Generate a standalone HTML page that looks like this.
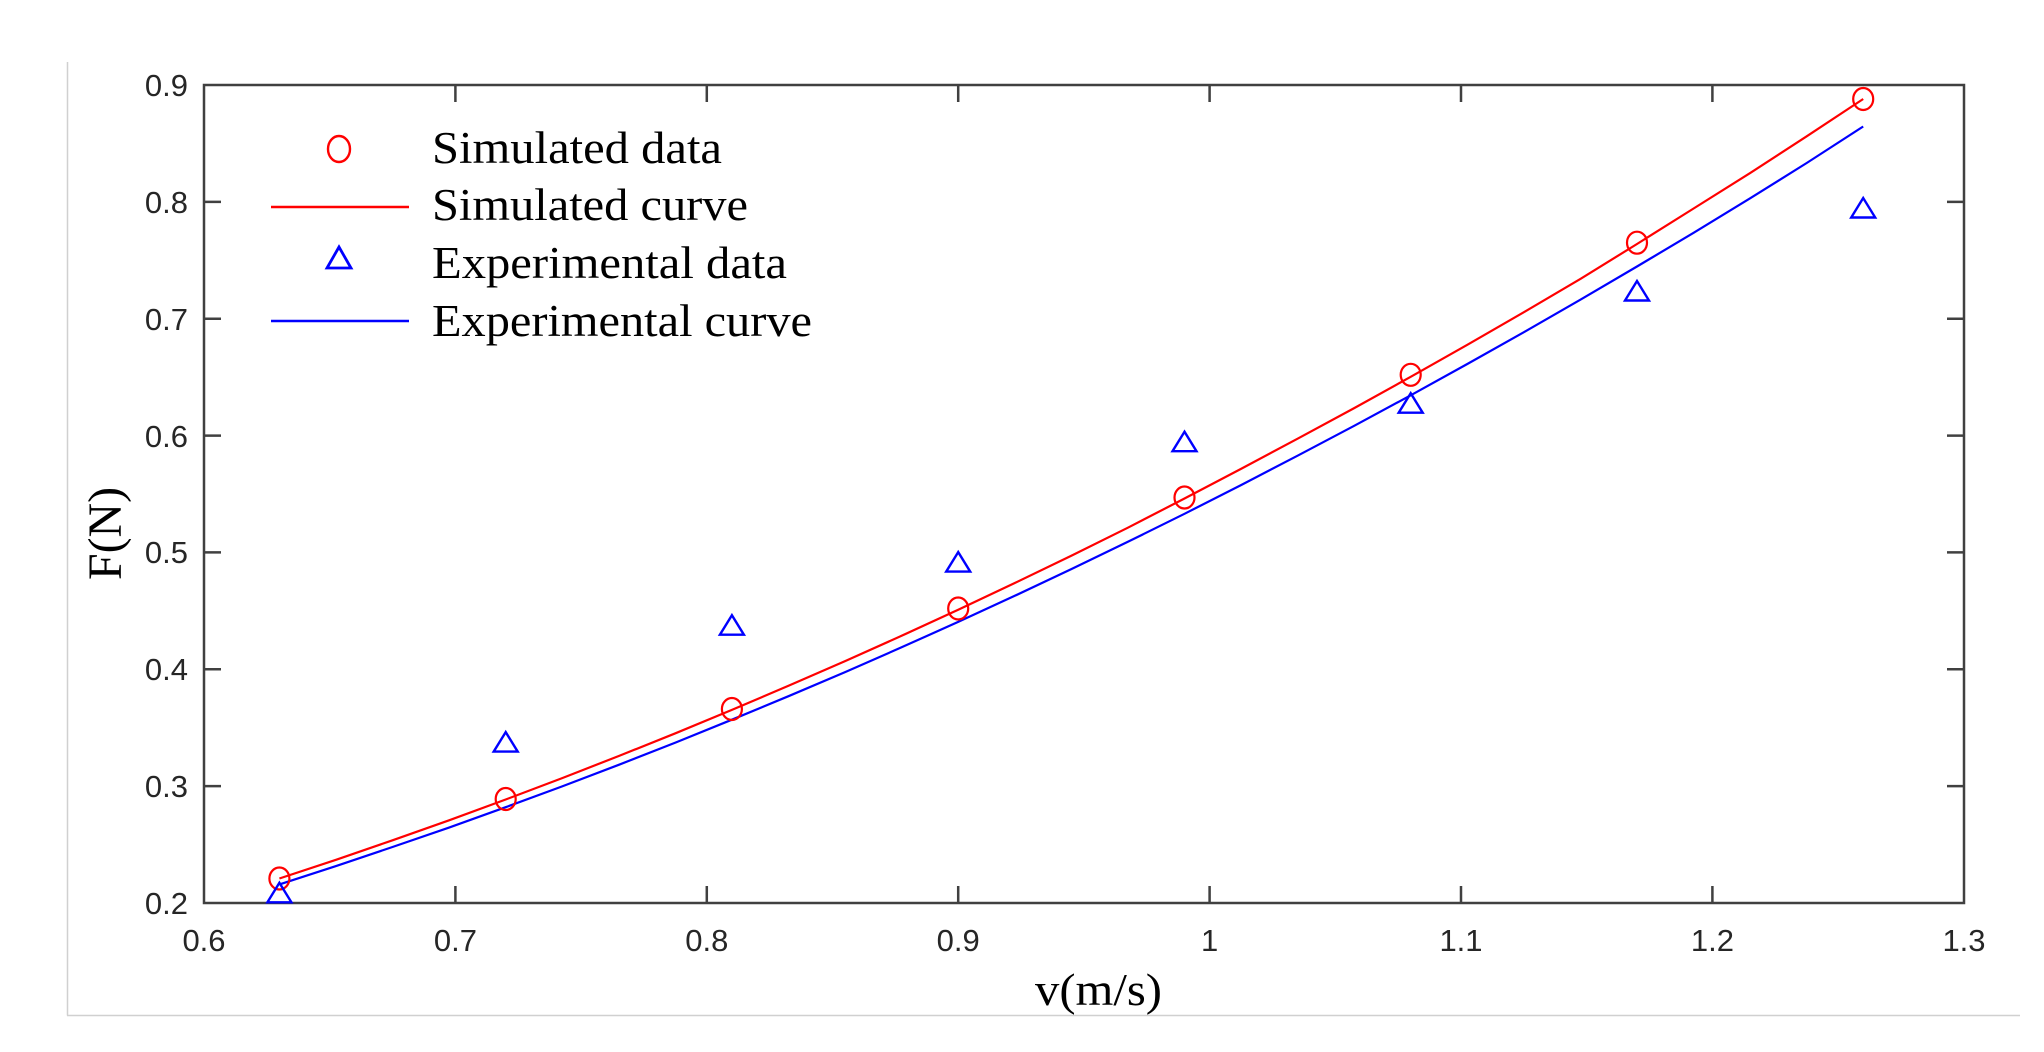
<!DOCTYPE html>
<html>
<head>
<meta charset="utf-8">
<style>
html,body{margin:0;padding:0;background:#fff;}
svg{display:block;}
.tk{font-family:"Liberation Sans",Arial,sans-serif;font-size:31px;fill:#262626;}
.lg{font-family:"Liberation Serif","Times New Roman",serif;font-size:45px;fill:#000;}
</style>
</head>
<body>
<svg width="2044" height="1052" viewBox="0 0 2044 1052" xmlns="http://www.w3.org/2000/svg">
<rect width="2044" height="1052" fill="#fff"/>
<line x1="67.5" y1="62" x2="67.5" y2="1015.5" stroke="#d0d0d0" stroke-width="1.5"/>
<line x1="67" y1="1015.5" x2="2020" y2="1015.5" stroke="#d0d0d0" stroke-width="1.5"/>

<rect x="204" y="85" width="1760" height="818" fill="none" stroke="#404040" stroke-width="2.5"/>
<g stroke="#404040" stroke-width="2.5">
<path d="M455.4 903v-17M706.8 903v-17M958.2 903v-17M1209.6 903v-17M1461 903v-17M1712.4 903v-17
M455.4 85v17M706.8 85v17M958.2 85v17M1209.6 85v17M1461 85v17M1712.4 85v17
M204 786.1h17M204 669.3h17M204 552.4h17M204 435.6h17M204 318.7h17M204 201.9h17
M1964 786.1h-17M1964 669.3h-17M1964 552.4h-17M1964 435.6h-17M1964 318.7h-17M1964 201.9h-17"/>
</g>
<g class="tk" text-anchor="end">
<text x="188" y="914">0.2</text>
<text x="188" y="797">0.3</text>
<text x="188" y="680">0.4</text>
<text x="188" y="563">0.5</text>
<text x="188" y="447">0.6</text>
<text x="188" y="330">0.7</text>
<text x="188" y="213">0.8</text>
<text x="188" y="96">0.9</text>
</g>
<g class="tk" text-anchor="middle">
<text x="204" y="951">0.6</text>
<text x="455.4" y="951">0.7</text>
<text x="706.8" y="951">0.8</text>
<text x="958.2" y="951">0.9</text>
<text x="1209.6" y="951">1</text>
<text x="1461" y="951">1.1</text>
<text x="1712.4" y="951">1.2</text>
<text x="1964" y="951">1.3</text>
</g>
<text class="lg" x="1035" y="1005" textLength="127" lengthAdjust="spacingAndGlyphs" style="font-size:46px">v(m/s)</text>
<text class="lg" transform="translate(121,580) rotate(-90)" x="0" y="0" textLength="93" lengthAdjust="spacingAndGlyphs" style="font-size:48px">F(N)</text>

<polyline fill="none" stroke="#0000ff" stroke-width="2.2" points="279.4,884.4 336,866.1 392.5,847.0 449.1,827.6 505.7,807.2 562.2,786.4 618.8,764.8 675.4,742.6 731.9,719.7 788.5,696.2 845.1,672.1 901.6,647.3 958.2,621.9 1014.8,595.8 1071.3,569.1 1127.9,541.8 1184.5,513.8 1241,485.1 1297.6,455.7 1354.2,425.8 1410.7,395.3 1467.3,364.0 1523.9,332.2 1580.4,299.7 1637,266.5 1693.6,232.8 1750.1,198.3 1806.7,163.0 1863.2,126.5"/>
<polyline fill="none" stroke="#ff0000" stroke-width="2.2" points="279.4,878.5 336,859.8 392.5,840.3 449.1,820.3 505.7,799.5 562.2,778.1 618.8,756.0 675.4,733.3 731.9,709.9 788.5,685.8 845.1,661.1 901.6,635.8 958.2,609.7 1014.8,583.0 1071.3,555.7 1127.9,527.7 1184.5,498.5 1241,468.9 1297.6,438.7 1354.2,408.1 1410.7,376.8 1467.3,344.8 1523.9,312.2 1580.4,278.9 1637,244.0 1693.6,208.5 1750.1,173.1 1806.7,136.3 1863.2,99.0"/>

<g fill="none" stroke="#ff0000" stroke-width="2.2">
<ellipse cx="279.4" cy="878.5" rx="10" ry="11"/>
<ellipse cx="505.7" cy="799.0" rx="10" ry="11"/>
<ellipse cx="731.9" cy="709.0" rx="10" ry="11"/>
<ellipse cx="958.2" cy="608.5" rx="10" ry="11"/>
<ellipse cx="1184.5" cy="497.5" rx="10" ry="11"/>
<ellipse cx="1410.7" cy="374.8" rx="10" ry="11"/>
<ellipse cx="1637" cy="242.7" rx="10" ry="11"/>
<ellipse cx="1863.2" cy="99.0" rx="10" ry="11"/>
</g>
<g fill="none" stroke="#0000ff" stroke-width="2.4">
<path d="M279.4 882.8l-12 19.5h24z"/>
<path d="M505.7 732.1l-12 19.5h24z"/>
<path d="M731.9 615.2l-12 19.5h24z"/>
<path d="M958.2 552.1l-12 19.5h24z"/>
<path d="M1184.5 431.7l-12 19.5h24z"/>
<path d="M1410.7 393.2l-12 19.5h24z"/>
<path d="M1637 281.0l-12 19.5h24z"/>
<path d="M1863.2 198.0l-12 19.5h24z"/>
</g>

<ellipse cx="339" cy="149" rx="11" ry="13" fill="none" stroke="#ff0000" stroke-width="2.4"/>
<line x1="271" y1="207" x2="409" y2="207" stroke="#ff0000" stroke-width="2.5"/>
<path d="M339 247l-12 21h24z" fill="none" stroke="#0000ff" stroke-width="2.8"/>
<line x1="271" y1="321" x2="409" y2="321" stroke="#0000ff" stroke-width="2.5"/>
<text class="lg" x="432" y="163" textLength="290" lengthAdjust="spacingAndGlyphs">Simulated data</text>
<text class="lg" x="432" y="220" textLength="316" lengthAdjust="spacingAndGlyphs">Simulated curve</text>
<text class="lg" x="432" y="278" textLength="355" lengthAdjust="spacingAndGlyphs">Experimental data</text>
<text class="lg" x="432" y="336" textLength="380" lengthAdjust="spacingAndGlyphs">Experimental curve</text>
</svg>
</body>
</html>
